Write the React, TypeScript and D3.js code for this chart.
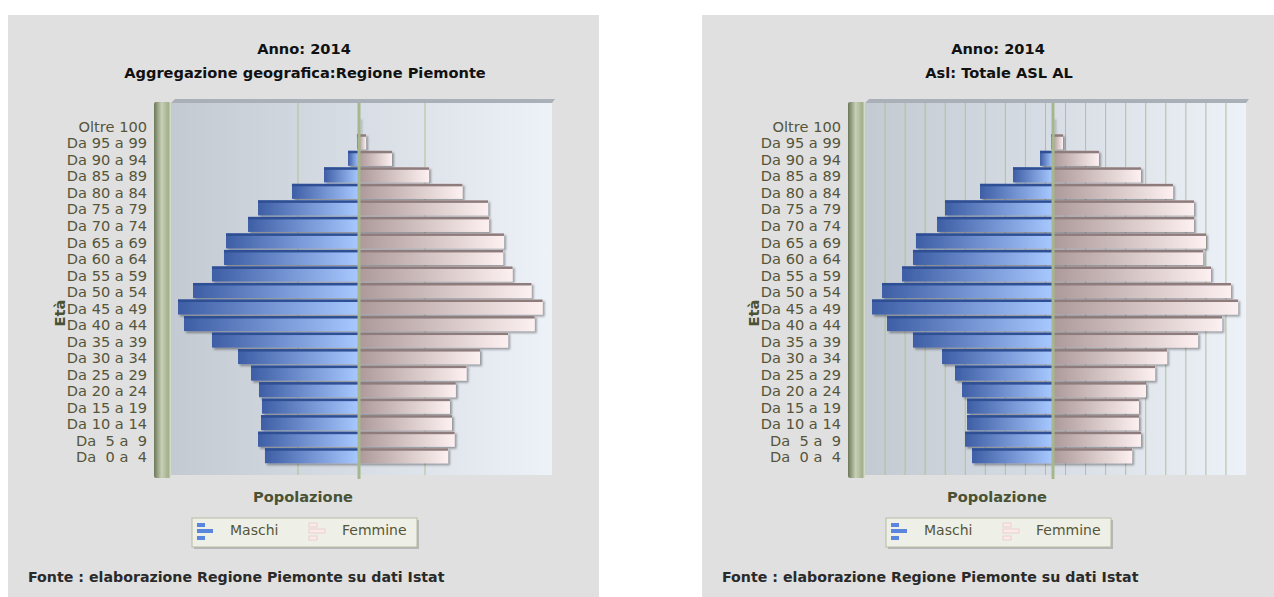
import React from "react";
import * as d3 from "d3";

const ageGroups = [
  "Da  0 a  4", "Da  5 a  9", "Da 10 a 14", "Da 15 a 19", "Da 20 a 24",
  "Da 25 a 29", "Da 30 a 34", "Da 35 a 39", "Da 40 a 44", "Da 45 a 49",
  "Da 50 a 54", "Da 55 a 59", "Da 60 a 64", "Da 65 a 69", "Da 70 a 74",
  "Da 75 a 79", "Da 80 a 84", "Da 85 a 89", "Da 90 a 94", "Da 95 a 99", "Oltre 100",
];

const piemonteMaschi = [97800, 105000, 101900, 100900, 104000, 112300, 125800, 152900, 182000, 188200, 172600, 152900, 140400, 138300, 115400, 105000, 69700, 36400, 11400, 2100, 200];
const piemonteFemmine = [92600, 99400, 96700, 94600, 100700, 111800, 125800, 155000, 182700, 190900, 179400, 159700, 149800, 150800, 135200, 134200, 107600, 72800, 34300, 7300, 900];
const alMaschi = [8420, 9150, 8940, 8940, 9460, 10190, 11540, 14560, 17260, 18820, 17780, 15700, 14560, 14250, 12060, 11230, 7590, 4160, 1350, 200, 20];
const alFemmine = [8220, 9150, 8940, 8940, 9670, 10610, 11860, 15080, 17580, 19240, 18510, 16430, 15600, 15910, 14660, 14660, 12480, 9150, 4780, 1040, 100];

const piemonteDomain = [-195500, 200700];
const alDomain = [-19550, 20070];
const piemonteDivisions = 3;
const alDivisions = 19;

const yearTitle = "Anno: 2014";
const piemonteSubtitle = "Aggregazione geografica:Regione Piemonte";
const alSubtitle = "Asl: Totale ASL AL";
const xAxisName = "Popolazione";
const yAxisName = "Età";
const seriesNames = ["Maschi", "Femmine"];
const sourceNote = "Fonte : elaborazione Regione Piemonte su dati Istat";

const FONT = "'DejaVu Sans', Verdana, sans-serif";
const LABEL_COLOR = "#56553a";
const AXIS_NAME_COLOR = "#4a5234";

type PyramidProps = {
  id: string;
  ox: number;
  subtitle: string;
  maschi: number[];
  femmine: number[];
  domain: number[];
  divisions: number;
};

function Pyramid({ id, ox, subtitle, maschi, femmine, domain, divisions }: PyramidProps) {
  const plotX0 = ox + 171;
  const plotX1 = ox + 552;
  const plotY0 = 103;
  const plotY1 = 475;
  const x = d3.scaleLinear().domain(domain).range([plotX0, plotX1]);
  const y = d3
    .scaleBand<string>()
    .domain(ageGroups.slice().reverse())
    .range([117, 464])
    .paddingInner(0.09)
    .paddingOuter(0.045);
  const bw = y.bandwidth();
  const x0 = x(0);
  const gridVals = d3.range(1, divisions).map((i) => domain[0] + (i * (domain[1] - domain[0])) / divisions);
  const cx = ox + 304;

  return (
    <g>
      <defs>
        <linearGradient id={`bg-${id}`} x1="0" x2="1" y1="0" y2="0">
          <stop offset="0" stopColor="#c3cad2" />
          <stop offset="1" stopColor="#edf1f8" />
        </linearGradient>
        <linearGradient id={`wall-${id}`} x1="0" x2="1" y1="0" y2="0">
          <stop offset="0" stopColor="#6c7758" />
          <stop offset="0.45" stopColor="#c7d0b6" />
          <stop offset="0.85" stopColor="#a2ae8c" />
          <stop offset="1" stopColor="#dfe5d2" />
        </linearGradient>
        <linearGradient id={`m-${id}`} x1="0" x2="1" y1="0" y2="0">
          <stop offset="0" stopColor="#3e5ea5" />
          <stop offset="1" stopColor="#a8c8ff" />
        </linearGradient>
        <linearGradient id={`f-${id}`} x1="0" x2="1" y1="0" y2="0">
          <stop offset="0" stopColor="#ad9999" />
          <stop offset="1" stopColor="#fdf0f0" />
        </linearGradient>
        <filter id={`sh-${id}`} x="-10%" y="-30%" width="130%" height="180%">
          <feDropShadow dx="2" dy="2" stdDeviation="1.3" floodColor="#000" floodOpacity="0.35" />
        </filter>
      </defs>

      {/* titles */}
      <text x={cx} y={54} textAnchor="middle" fontFamily={FONT} fontWeight="bold" fontSize={14.6} fill="#111">
        {yearTitle}
      </text>
      <text x={cx + 1} y={78} textAnchor="middle" fontFamily={FONT} fontWeight="bold" fontSize={14.6} fill="#111">
        {subtitle}
      </text>

      {/* plot background */}
      <rect x={plotX0} y={plotY0} width={plotX1 - plotX0} height={plotY1 - plotY0} fill={`url(#bg-${id})`} />
      <polygon
        points={`${plotX0},${plotY0} ${plotX0 + 4},${plotY0 - 4} ${plotX1 + 3},${plotY0 - 4} ${plotX1},${plotY0}`}
        fill="#a9b0b8"
      />

      {/* grid lines */}
      {gridVals.map((v, i) => (
        <line key={i} x1={x(v)} x2={x(v)} y1={plotY0} y2={plotY1} stroke="#afc096" strokeWidth={1} />
      ))}

      {/* bars */}
      <g filter={`url(#sh-${id})`}>
        {ageGroups.map((g, i) => {
          const yy = y(g)!;
          const xl = x(-maschi[i]);
          return (
            <g key={`m${i}`}>
              <rect x={xl} y={yy} width={x0 - xl} height={bw} fill={`url(#m-${id})`} />
              <rect x={xl} y={yy} width={x0 - xl} height={2.5} fill="#2f4f93" />
            </g>
          );
        })}
        {ageGroups.map((g, i) => {
          const yy = y(g)!;
          const xr = x(femmine[i]);
          return (
            <g key={`f${i}`}>
              <rect x={x0} y={yy} width={xr - x0} height={bw} fill={`url(#f-${id})`} />
              <rect x={x0} y={yy} width={xr - x0} height={2.5} fill="#8e7b7b" />
            </g>
          );
        })}
      </g>

      {/* zero line */}
      <rect x={x0 - 1.5} y={plotY0} width={3} height={plotY1 - plotY0 + 4} fill="#a6b78d" />

      {/* wall */}
      <rect x={ox + 154} y={plotY0 - 1} width={17} height={plotY1 - plotY0 + 4} rx={2} fill={`url(#wall-${id})`} />

      {/* category labels */}
      {ageGroups.map((g) => (
        <text
          key={g}
          x={ox + 147}
          y={y(g)! + bw / 2 + 1.5}
          dy="0.35em"
          textAnchor="end"
          fontFamily={FONT}
          fontSize={14.6}
          fill={LABEL_COLOR}
          style={{ whiteSpace: "pre" }}
        >
          {g}
        </text>
      ))}

      {/* axis names */}
      <text
        transform={`translate(${ox + 60},${313}) rotate(-90)`}
        textAnchor="middle"
        dy="0.35em"
        fontFamily={FONT}
        fontWeight="bold"
        fontSize={14.6}
        fill={AXIS_NAME_COLOR}
      >
        {yAxisName}
      </text>
      <text x={cx - 1} y={502} textAnchor="middle" fontFamily={FONT} fontWeight="bold" fontSize={14.6} fill={AXIS_NAME_COLOR}>
        {xAxisName}
      </text>

      {/* legend */}
      <rect x={ox + 194} y={520} width={225} height={29} fill="#000" opacity={0.18} />
      <rect x={ox + 192} y={518} width={225} height={29} fill="#eef0e7" stroke="#b4bba4" strokeWidth={1} />
      <g>
        <rect x={ox + 197} y={523} width={8} height={4} fill="#5b86dd" />
        <rect x={ox + 197} y={529} width={16} height={4} fill="#5b86dd" />
        <rect x={ox + 197} y={536} width={8} height={4} fill="#5b86dd" />
        <text x={ox + 230} y={534} dy="0.1em" fontFamily={FONT} fontSize={14} fill={LABEL_COLOR}>
          {seriesNames[0]}
        </text>
        <rect x={ox + 309} y={523} width={8} height={4} fill="#fbeaea" stroke="#e9c9c9" strokeWidth={0.8} />
        <rect x={ox + 309} y={529} width={16} height={4} fill="#fbeaea" stroke="#e9c9c9" strokeWidth={0.8} />
        <rect x={ox + 309} y={536} width={8} height={4} fill="#fbeaea" stroke="#e9c9c9" strokeWidth={0.8} />
        <text x={ox + 342} y={534} dy="0.1em" fontFamily={FONT} fontSize={14} fill={LABEL_COLOR}>
          {seriesNames[1]}
        </text>
      </g>

      {/* source */}
      <text x={ox + 28} y={582} fontFamily={FONT} fontWeight="bold" fontSize={14.2} fill="#2a2a2a">
        {sourceNote}
      </text>
    </g>
  );
}

export default function App() {
  return (
    <svg
      width={1274}
      height={597}
      style={{ position: "absolute", left: 0, top: 0, display: "block" }}
    >
      <rect x={0} y={0} width={1274} height={597} fill="#ffffff" />
      <rect x={8} y={15} width={591} height={582} fill="#e0e0e0" />
      <rect x={702} y={15} width={591} height={582} fill="#e0e0e0" />
      <Pyramid
        id="pie"
        ox={0}
        subtitle={piemonteSubtitle}
        maschi={piemonteMaschi}
        femmine={piemonteFemmine}
        domain={piemonteDomain}
        divisions={piemonteDivisions}
      />
      <Pyramid
        id="al"
        ox={694}
        subtitle={alSubtitle}
        maschi={alMaschi}
        femmine={alFemmine}
        domain={alDomain}
        divisions={alDivisions}
      />
    </svg>
  );
}
